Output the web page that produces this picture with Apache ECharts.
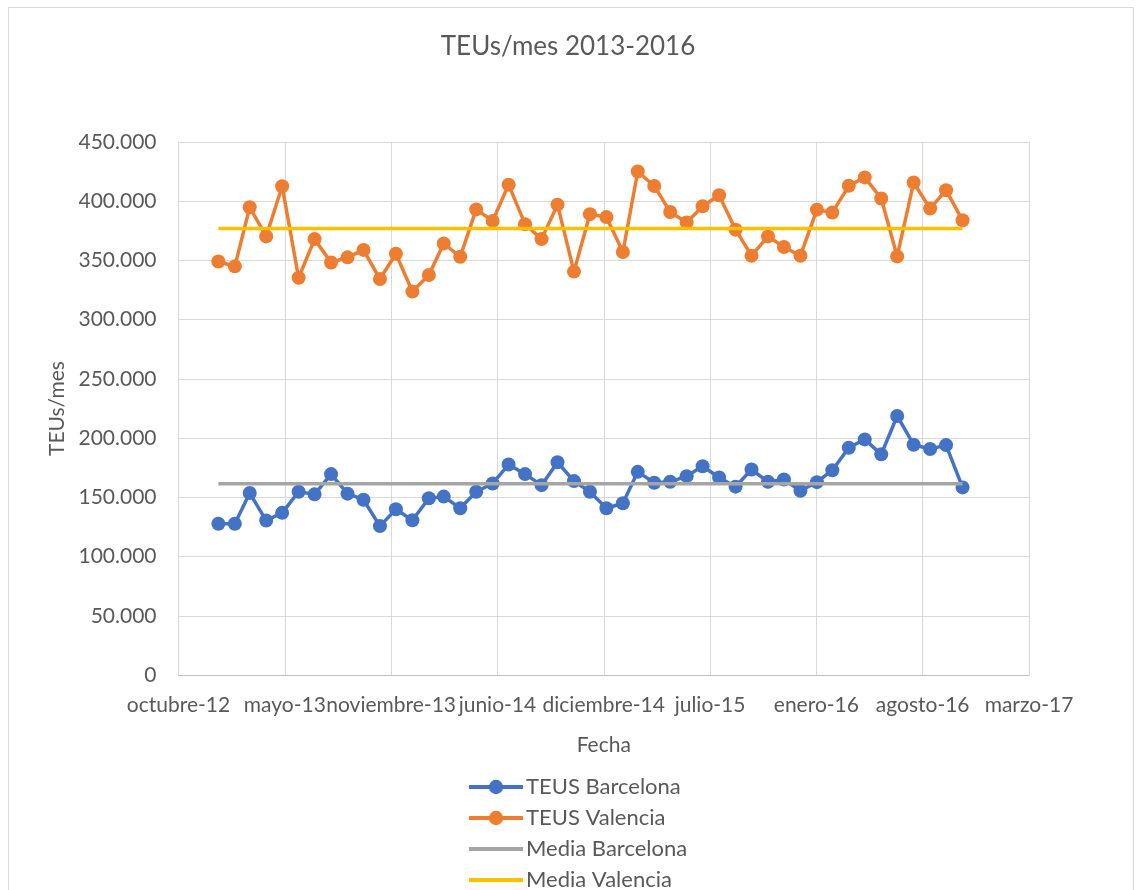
<!DOCTYPE html>
<html>
<head>
<meta charset="utf-8">
<script src="https://cdn.jsdelivr.net/npm/echarts@6/dist/echarts.min.js"></script>
<style>
html,body{margin:0;padding:0;background:#fff;}
#chart{width:1136px;height:890px;}
</style>
</head>
<body>
<div id="chart"></div>
<script>
// ---- data ----
const startYear = 2013, startMonth = 0; // January 2013, monthly
const teusBarcelona = [127700,127700,153600,130400,136900,154700,152500,169600,153100,148000,125700,139900,
  130700,149200,150600,140800,154700,161700,177700,169600,160300,179600,163700,154700,
  140800,145000,171500,162300,163100,167900,176300,166800,159000,173500,163100,165100,
  155600,162800,172900,191900,198900,186300,218700,194400,190800,194100,158400];
const teusValencia = [349100,345000,394900,370300,412600,335400,368000,348300,352600,358900,334300,355700,
  323700,337700,364300,353100,393100,383400,414000,380600,368000,397100,340600,389100,
  386600,357100,425100,412900,390900,382000,395800,405100,376000,354000,370300,361300,
  354000,392900,390400,413000,420100,402300,353400,415800,393800,409300,383900];
const mediaBarcelona = 161500;
const mediaValencia = 376900;
const xTickLabels = ['octubre-12','mayo-13','noviembre-13','junio-14','diciembre-14','julio-15','enero-16','agosto-16','marzo-17'];
const seriesNames = ['TEUS Barcelona','TEUS Valencia','Media Barcelona','Media Valencia'];
const seriesColors = ['#4472C4','#ED7D31','#A5A5A5','#FFC000'];

// ---- axis setup (Excel-like date axis: 200-day major unit starting 18 Oct 2012) ----
const axisStart = Date.UTC(2012, 9, 18);
const dayMs = 86400000;
const tickDays = 200;
const xDays = teusBarcelona.map((_, i) => (Date.UTC(startYear, startMonth + i, 1) - axisStart) / dayMs);

const pair = arr => arr.map((v, i) => [xDays[i], v]);
const flat = v => xDays.map(x => [x, v]);

const FONT = 'Lato';
const TXT = '#595959';
const transparent = 'rgba(0,0,0,0)';

const chart = echarts.init(document.getElementById('chart'));
chart.setOption({
  animation: false,
  backgroundColor: '#ffffff',
  textStyle: { fontFamily: FONT, color: TXT },
  title: {
    text: 'TEUs/mes 2013-2016',
    left: 'center', top: 29,
    textStyle: { fontFamily: FONT, fontSize: 26, fontWeight: 'normal', color: TXT }
  },
  graphic: [{
    type: 'rect', shape: { x: 8.5, y: 7.5, width: 1125, height: 900 },
    style: { fill: 'none', stroke: '#D9D9D9', lineWidth: 1 }, silent: true
  }],
  grid: { left: 178.5, right: 107, top: 142, bottom: 215, containLabel: false },
  legend: {
    orient: 'vertical', left: 462, top: 771, height: 300,
    itemWidth: 54, itemHeight: 18, itemGap: 9,
    data: [
      { name: seriesNames[0], lineStyle: { width: 4, color: seriesColors[0] } },
      { name: seriesNames[1], lineStyle: { width: 4, color: seriesColors[1] } },
      { name: seriesNames[2], lineStyle: { width: 4, color: seriesColors[2] },
        itemStyle: { color: transparent, borderColor: transparent, borderWidth: 0 } },
      { name: seriesNames[3], lineStyle: { width: 4, color: seriesColors[3] },
        itemStyle: { color: transparent, borderColor: transparent, borderWidth: 0 } }
    ],
    textStyle: { fontFamily: FONT, fontSize: 22, color: TXT, padding: [0,0,0,-2] }
  },
  xAxis: {
    type: 'value', min: 0, max: tickDays * (xTickLabels.length - 1), interval: tickDays,
    name: 'Fecha', nameLocation: 'middle', nameGap: 60,
    nameTextStyle: { fontFamily: FONT, fontSize: 21, color: TXT },
    axisLine: { show: true, lineStyle: { color: '#BFBFBF', width: 1 } },
    axisTick: { show: false },
    splitLine: { show: true, lineStyle: { color: '#D9D9D9', width: 1 } },
    axisLabel: {
      fontFamily: FONT, fontSize: 21, color: TXT, margin: 20,
      showMinLabel: true, showMaxLabel: true, hideOverlap: false,
      formatter: v => xTickLabels[Math.round(v / tickDays)] || ''
    }
  },
  yAxis: {
    type: 'value', min: 0, max: 450000, interval: 50000,
    name: 'TEUs/mes', nameLocation: 'middle', nameGap: 111, nameRotate: 90,
    nameTextStyle: { fontFamily: FONT, fontSize: 21, color: TXT },
    axisLine: { show: true, lineStyle: { color: '#D9D9D9', width: 1 } },
    axisTick: { show: false },
    splitLine: { show: true, lineStyle: { color: '#D9D9D9', width: 1 } },
    axisLabel: {
      fontFamily: FONT, fontSize: 21, color: TXT, margin: 22,
      formatter: v => v === 0 ? '0' : String(v).replace(/\B(?=(\d{3})+(?!\d))/g, '.')
    }
  },
  series: [
    { name: seriesNames[0], type: 'line', data: pair(teusBarcelona), symbol: 'circle', symbolSize: 14,
      itemStyle: { color: seriesColors[0] }, lineStyle: { color: seriesColors[0], width: 3.5 }, z: 4 },
    { name: seriesNames[1], type: 'line', data: pair(teusValencia), symbol: 'circle', symbolSize: 14,
      itemStyle: { color: seriesColors[1] }, lineStyle: { color: seriesColors[1], width: 3.5 }, z: 4 },
    { name: seriesNames[2], type: 'line', data: flat(mediaBarcelona), symbol: 'none', showSymbol: false,
      itemStyle: { color: seriesColors[2] }, lineStyle: { color: seriesColors[2], width: 3.5 }, z: 5 },
    { name: seriesNames[3], type: 'line', data: flat(mediaValencia), symbol: 'none', showSymbol: false,
      itemStyle: { color: seriesColors[3] }, lineStyle: { color: seriesColors[3], width: 3.5 }, z: 5 }
  ]
});
</script>
</body>
</html>
